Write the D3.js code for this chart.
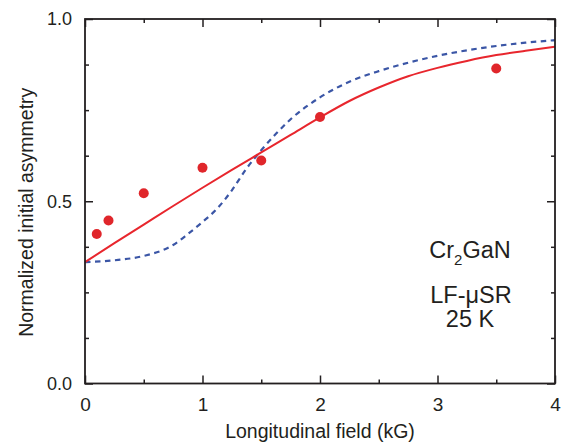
<!DOCTYPE html>
<html>
<head>
<meta charset="utf-8">
<script src="https://cdn.jsdelivr.net/npm/d3@7"></script>
<style>
  html, body { margin: 0; padding: 0; background: #fff; }
  svg text { font-family: "Liberation Sans", Arial, Helvetica, sans-serif; fill: #231f20; }
</style>
</head>
<body>
<div id="chart"></div>
<script>
// measured points (LF field in kG, normalized asymmetry)
const fieldPts = [0.1, 0.2, 0.5, 1.0, 1.5, 2.0, 3.5];
const asymPts = [0.41, 0.447, 0.522, 0.592, 0.612, 0.731, 0.864];

// solid red fit curve
const redField = [0, 0.25, 0.5, 0.75, 1.0, 1.25, 1.5, 1.75, 2.0, 2.25, 2.5, 2.75, 3.0, 3.25, 3.5, 3.75, 4.0];
const redAsym = [0.333, 0.385, 0.436, 0.487, 0.537, 0.586, 0.634, 0.682, 0.730, 0.775, 0.812, 0.843, 0.866, 0.885, 0.901, 0.913, 0.924];

// dashed blue curve
const blueField = [0, 0.25, 0.5, 0.75, 0.875, 1.0, 1.125, 1.25, 1.375, 1.5, 1.625, 1.75, 2.0, 2.25, 2.5, 2.75, 3.0, 3.25, 3.5, 3.75, 4.0];
const blueAsym = [0.333, 0.338, 0.350, 0.380, 0.410, 0.443, 0.480, 0.530, 0.590, 0.640, 0.685, 0.725, 0.785, 0.828, 0.857, 0.880, 0.899, 0.914, 0.926, 0.935, 0.942];

const xMajor = [0, 1, 2, 3, 4];
const xMinor = [0.5, 1.5, 2.5, 3.5];
const yMajor = [0, 0.5, 1.0];
const yMinor = [0.125, 0.25, 0.375, 0.625, 0.75, 0.875];

const width = 567, height = 444;
const margin = { left: 85, right: 12, top: 19, bottom: 60.5 };
const innerW = width - margin.left - margin.right;
const innerH = height - margin.top - margin.bottom;

const svg = d3.select('#chart').append('svg')
    .attr('width', width)
    .attr('height', height);

const g = svg.append('g').attr('transform', `translate(${margin.left},${margin.top})`);

const x = d3.scaleLinear().domain([0, 4]).range([0, innerW]);
const y = d3.scaleLinear().domain([0, 1]).range([innerH, 0]);

const axisColor = '#231f20';

// curves
const line = d3.line()
    .x(d => x(d[0]))
    .y(d => y(d[1]))
    .curve(d3.curveMonotoneX);

g.append('path')
    .datum(blueField.map((f, i) => [f, blueAsym[i]]))
    .attr('d', line)
    .attr('fill', 'none')
    .attr('stroke', '#3b56a6')
    .attr('stroke-width', 2.2)
    .attr('stroke-dasharray', '5.5,4.5');

g.append('path')
    .datum(redField.map((f, i) => [f, redAsym[i]]))
    .attr('d', line)
    .attr('fill', 'none')
    .attr('stroke', '#e8262d')
    .attr('stroke-width', 2);

g.selectAll('circle.pt')
    .data(fieldPts.map((f, i) => [f, asymPts[i]]))
    .enter()
    .append('circle')
    .attr('class', 'pt')
    .attr('cx', d => x(d[0]))
    .attr('cy', d => y(d[1]))
    .attr('r', 5)
    .attr('fill', '#e0262b');

// frame with inward ticks on all four sides
const bottomAxis = d3.axisBottom(x).tickValues(xMajor).tickSizeInner(-8).tickSizeOuter(0).tickFormat(d3.format('d')).tickPadding(14);
const gx = g.append('g').attr('transform', `translate(0,${innerH})`).call(bottomAxis);
gx.selectAll('text').attr('font-size', 19);

const leftAxis = d3.axisLeft(y).tickValues(yMajor).tickSizeInner(-8).tickSizeOuter(0).tickFormat(d3.format('.1f')).tickPadding(13);
const gy = g.append('g').call(leftAxis);
gy.selectAll('text').attr('font-size', 18);

g.append('g').attr('transform', `translate(0,${innerH})`)
    .call(d3.axisBottom(x).tickValues(xMinor).tickSize(-4).tickFormat(''));
g.append('g')
    .call(d3.axisLeft(y).tickValues(yMinor).tickSize(-4).tickFormat(''));
g.append('g')
    .call(d3.axisTop(x).tickValues(xMajor).tickSize(-8).tickFormat(''));
g.append('g')
    .call(d3.axisTop(x).tickValues(xMinor).tickSize(-4).tickFormat(''));
g.append('g').attr('transform', `translate(${innerW},0)`)
    .call(d3.axisRight(y).tickValues(yMajor).tickSize(-8).tickFormat(''));
g.append('g').attr('transform', `translate(${innerW},0)`)
    .call(d3.axisRight(y).tickValues(yMinor).tickSize(-4).tickFormat(''));

g.selectAll('.domain').attr('stroke', 'none');
g.selectAll('.tick line').attr('stroke', axisColor).attr('stroke-width', 1.5);
g.selectAll('.tick text').attr('fill', axisColor).attr('font-family', '"Liberation Sans", Arial, sans-serif');

g.append('rect')
    .attr('x', 0).attr('y', 0)
    .attr('width', innerW).attr('height', innerH)
    .attr('fill', 'none')
    .attr('stroke', axisColor)
    .attr('stroke-width', 1.8);

// axis titles
svg.append('text')
    .attr('x', margin.left + innerW / 2)
    .attr('y', 438)
    .attr('text-anchor', 'middle')
    .attr('font-size', 19.5)
    .text('Longitudinal field (kG)');

svg.append('text')
    .attr('transform', `translate(33,${margin.top + innerH / 2 + 11}) rotate(-90)`)
    .attr('text-anchor', 'middle')
    .attr('font-size', 19.5)
    .text('Normalized initial asymmetry');

// annotation
const note = svg.append('g').attr('font-size', 23.5).attr('text-anchor', 'middle');
const t1 = note.append('text').attr('x', 470).attr('y', 258);
t1.append('tspan').text('Cr');
t1.append('tspan').attr('font-size', 15).attr('dy', 7).text('2');
t1.append('tspan').attr('dy', -7).text('GaN');
note.append('text').attr('x', 471).attr('y', 303).text('LF-\u03bcSR');
note.append('text').attr('x', 470).attr('y', 327).text('25 K');
</script>
</body>
</html>
